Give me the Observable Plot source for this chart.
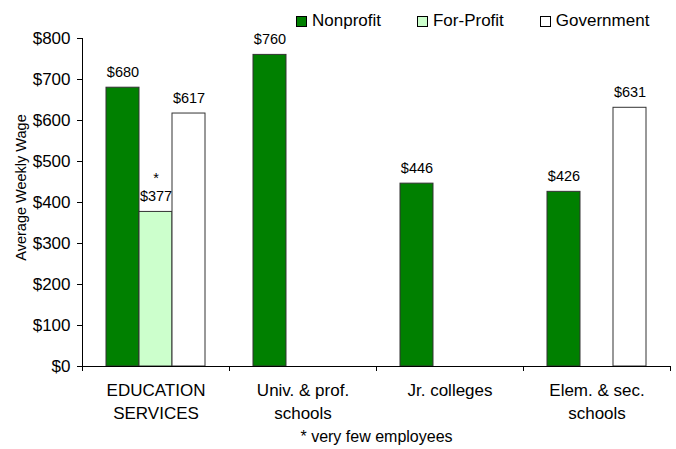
<!DOCTYPE html>
<html>
<head>
<meta charset="utf-8">
<script src="https://cdn.jsdelivr.net/npm/d3@7"></script>
<script src="https://cdn.jsdelivr.net/npm/@observablehq/plot@0.6"></script>
<style>
  html, body { margin: 0; padding: 0; background: #fff; }
  #chart { position: relative; width: 676px; height: 449px; font-family: "Liberation Sans", Arial, sans-serif; }
  #legend { position: absolute; top: 11px; left: 296px; display: flex; gap: 36px; font-size: 17px; line-height: 20px; color: #000; }
  .item { display: flex; align-items: center; }
  .sw { width: 9px; height: 9px; border: 1px solid #000; margin-right: 5px; }
</style>
</head>
<body>
<div id="chart"><div id="legend"></div></div>
<script>
// ---- data ----
const categories = ["EDUCATION\nSERVICES", "Univ. & prof.\nschools", "Jr. colleges", "Elem. & sec.\nschools"];
const series = ["Nonprofit", "For-Profit", "Government"];
const nonprofit = [680, 760, 446, 426];
const forProfit = [377, null, null, null];
const government = [617, null, null, 631];
const veryFewEmployees = [false, true, false]; // per series, for EDUCATION SERVICES for-profit
const colors = ["#008000", "#ccffcc", "#ffffff"];
const yTicks = [0, 100, 200, 300, 400, 500, 600, 700, 800];
const yLabel = "Average Weekly Wage";
const footnote = "* very few employees";

const values = [nonprofit, forProfit, government];
const barWidth = 0.2245; // fraction of a category band

const rows = [];
categories.forEach((cat, c) => {
  series.forEach((s, si) => {
    const v = values[si][c];
    if (v == null) return;
    const x1 = c + 0.5 + (si - 1.5) * barWidth;
    rows.push({
      category: cat, series: s, value: v,
      x1, x2: x1 + barWidth, xc: x1 + barWidth / 2,
      label: (veryFewEmployees[si] ? "*\n" : "") + "$" + v
    });
  });
});

const plot = Plot.plot({
  width: 676,
  height: 449,
  marginLeft: 82,
  marginRight: 6,
  marginTop: 38,
  marginBottom: 83,
  style: { fontFamily: '"Liberation Sans", Arial, sans-serif', color: "#000", background: "transparent", overflow: "visible" },
  x: { domain: [0, categories.length], axis: null },
  y: { domain: [0, 800], axis: null },
  color: { domain: series, range: colors },
  marks: [
    Plot.rectY(rows, { x1: "x1", x2: "x2", y1: 0, y2: "value", fill: "series", stroke: "#333", strokeWidth: 1 }),
    Plot.text(rows, { x: "xc", y: "value", text: "label", dy: -11, lineAnchor: "bottom", lineHeight: 1.25, fontSize: 14.5, fill: "#000" }),
    Plot.ruleY([0], { stroke: "#000" }),
    Plot.ruleX([0], { stroke: "#000" }),
    Plot.axisY({ ticks: yTicks, tickFormat: d => "$" + d, tickSize: 5, tickPadding: 7, fontSize: 17, label: null }),
    Plot.axisX({ ticks: d3.range(categories.length + 1), tickSize: 5, tickFormat: () => "", label: null }),
    Plot.axisX({ ticks: categories.map((_, i) => i + 0.5), tickFormat: d => categories[Math.floor(d)], tickSize: 0, tickPadding: 12.5, fontSize: 17, lineHeight: 1.38, label: null }),
    Plot.text([yLabel], { text: d => d, frameAnchor: "left", textAnchor: "middle", rotate: -90, dx: -61.5, dy: -15, fontSize: 14.5, fill: "#000" }),
    Plot.text([footnote], { text: d => d, frameAnchor: "bottom", lineAnchor: "top", dy: 64.5, fontSize: 16, fill: "#000" })
  ]
});
document.getElementById("chart").prepend(plot);

const legend = d3.select("#legend");
series.forEach((s, i) => {
  const item = legend.append("div").attr("class", "item");
  item.append("div").attr("class", "sw").style("background", colors[i]);
  item.append("span").text(s);
});
</script>
</body>
</html>
